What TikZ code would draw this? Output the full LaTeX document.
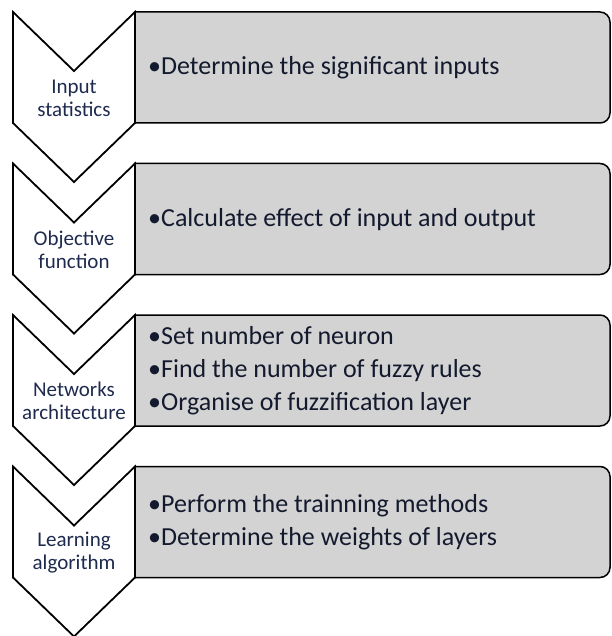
\documentclass[tikz,border=0pt]{standalone}
\usepackage{fontspec}
\setmainfont{Carlito}
\definecolor{boxfill}{HTML}{D3D3D3}
\definecolor{labtext}{HTML}{1F2A4F}
\definecolor{boxtext}{HTML}{141A2E}
\newcommand{\chevstage}[4]{%
  % #1 top y, #2 name, #3 label, #4 items
  \draw[chev] (13,#1) -- (74,#1+59) -- (135,#1) -- (135,#1+111) -- (74,#1+170) -- (13,#1+111) -- cycle;
  \draw[infobox] (135,#1) -- (600,#1) arc(-90:0:10) -- (610,#1+101) arc(0:90:10) -- (135,#1+111) -- cycle;
  \node[lab] (lab#2) at (74,#1+86) {#3};
  \node[items] (txt#2) at (148,#1+56) {#4};
}
\begin{document}
\begin{tikzpicture}[x=1pt,y=-1pt,
  chev/.style={draw=black, line width=1.8pt, fill=white, line join=miter},
  infobox/.style={draw=black, line width=1.5pt, fill=boxfill},
  lab/.style={font=\fontsize{21}{23}\selectfont, text=labtext, align=center, inner sep=0pt},
  items/.style={font=\fontsize{26}{33}\selectfont, text=boxtext, align=left, anchor=west, inner sep=0pt}]
\useasboundingbox (0,0) rectangle (611,636);
\chevstage{12}{a}{Input\\statistics}{•Determine the significant inputs}
\chevstage{163.5}{b}{Objective\\function}{•Calculate effect of input and output}
\chevstage{315}{c}{Networks\\architecture}{•Set number of neuron\\•Find the number of fuzzy rules\\•Organise of fuzzification layer}
\chevstage{466.5}{d}{Learning\\algorithm}{•Perform the trainning methods\\•Determine the weights of layers}
\end{tikzpicture}
\end{document}
